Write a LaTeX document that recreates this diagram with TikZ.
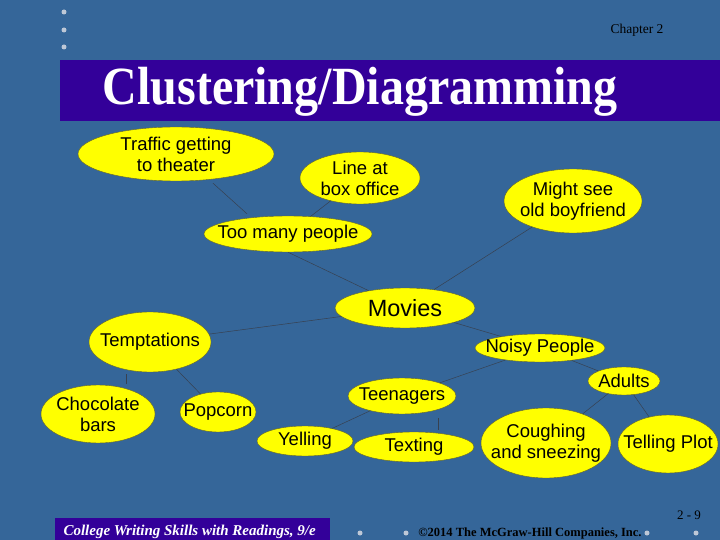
\documentclass[tikz,border=0pt]{standalone}
\usepackage{fontspec}
\setmainfont{Liberation Serif}
\newfontfamily\bubblefont{Liberation Sans}
\usetikzlibrary{shapes.geometric,positioning}

\definecolor{slideblue}{RGB}{53,102,153}
\definecolor{barpurple}{RGB}{51,0,153}
\definecolor{bubbleyellow}{RGB}{255,255,0}
\definecolor{bubbleedge}{RGB}{100,100,40}
\definecolor{linkgray}{RGB}{55,65,80}
\definecolor{dotgray}{RGB}{190,200,215}

\tikzset{
  bubble/.style={ellipse,draw=bubbleedge,fill=bubbleyellow,inner sep=0pt},
  bubtext/.style={align=center,inner sep=0pt,text=black,font=\bubblefont\fontsize{18.5}{21}\selectfont},
  link/.style={draw=linkgray,line width=.5pt},
  sdot/.style={circle,fill=dotgray,inner sep=0pt,minimum size=5pt}
}

\begin{document}
\begin{tikzpicture}[x=1pt,y=-1pt]
    \useasboundingbox (0,0) rectangle (720,540);
    \fill[slideblue] (0,0) rectangle (720,540);

    % header
    \node[sdot] (d1) at (64,12) {};
    \node[sdot] (d2) at (64,30) {};
    \node[sdot] (d3) at (64,47) {};
    \node[font=\fontsize{13.5}{15}\selectfont] (chap) at (637,30) {Chapter 2};
    \fill[barpurple] (60,60) rectangle (720,121);
    \node[text=white,font=\bfseries\fontsize{48}{52}\selectfont,yscale=1.12,transform shape] (title) at (360,92) {Clustering/Diagramming};

    % bubbles
    \node[bubble,minimum width=196pt,minimum height=54pt,label={[bubtext]center:Traffic getting\\to theater}] (traffic) at (176,154) {};
    \node[bubble,minimum width=120pt,minimum height=52pt,label={[bubtext]center:Line at\\box office}] (boxoffice) at (360,178) {};
    \node[bubble,minimum width=138pt,minimum height=64pt,label={[bubtext]center:Might see\\old boyfriend}] (boyfriend) at (573,201) {};
    \node[bubble,minimum width=168pt,minimum height=36pt,label={[bubtext]center:Too many people}] (crowd) at (288,234) {};
    \node[bubble,minimum width=140pt,minimum height=40pt,label={[bubtext,font=\bubblefont\fontsize{23.5}{26}\selectfont]center:Movies}] (movies) at (405,308) {};
    \node[bubble,minimum width=122pt,minimum height=60pt,label={[bubtext]center:Temptations}] (tempt) at (150,342) {};
    \node[bubble,minimum width=130pt,minimum height=28pt,label={[bubtext]center:Noisy People}] (noisy) at (540,348) {};
    \node[bubble,minimum width=72pt,minimum height=28pt,label={[bubtext]center:Adults}] (adults) at (624,381) {};
    \node[bubble,minimum width=108pt,minimum height=36pt,label={[bubtext]center:Teenagers}] (teens) at (402,396) {};
    \node[bubble,minimum width=114pt,minimum height=58pt,label={[bubtext]center:Chocolate\\bars}] (choc) at (98,414) {};
    \node[bubble,minimum width=76pt,minimum height=40pt,label={[bubtext]center:Popcorn}] (popcorn) at (218,412) {};
    \node[bubble,minimum width=96pt,minimum height=30pt,label={[bubtext]center:Yelling}] (yelling) at (305,441) {};
    \node[bubble,minimum width=120pt,minimum height=30pt,label={[bubtext]center:Texting}] (texting) at (414,447) {};
    \node[bubble,minimum width=130pt,minimum height=70pt,label={[bubtext]center:Coughing\\and sneezing}] (cough) at (546,443) {};
    \node[bubble,minimum width=100pt,minimum height=58pt,label={[bubtext]center:Telling Plot}] (plot) at (668,444) {};

    % links
    \draw[link] ([xshift=37pt,yshift=-2pt]traffic.south) -- ([xshift=-41pt,yshift=2pt]crowd.north);
    \draw[link] (boxoffice) -- (crowd);
    \draw[link] (crowd.south) -- (movies);
    \draw[link] (boyfriend) -- (movies);
    \draw[link] (movies) -- (tempt);
    \draw[link] (movies) -- (noisy);
    \draw[link] ([xshift=-24pt,yshift=-2pt]tempt.south) -- ([xshift=28pt,yshift=1pt]choc.north);
    \draw[link] (tempt) -- (popcorn);
    \draw[link] (noisy) -- (teens);
    \draw[link] (noisy) -- (adults);
    \draw[link] (teens) -- (yelling);
    \draw[link] ([xshift=36pt,yshift=-4pt]teens.south) -- ([xshift=24pt,yshift=2pt]texting.north);
    \draw[link] (adults) -- (cough);
    \draw[link] (adults) -- (plot);

    % footer
    \fill[barpurple] (55,518) rectangle (330,540);
    \node[anchor=west,text=white,font=\bfseries\itshape\fontsize{15}{17}\selectfont] (book) at (60,532) {College Writing Skills with Readings, 9/e};
    \node[sdot] (d4) at (360,533) {};
    \node[sdot] (d5) at (406,533) {};
    \node[sdot] (d6) at (647,533) {};
    \node[sdot] (d7) at (696,533) {};
    \node[font=\bfseries\fontsize{12.5}{14}\selectfont] (copy) at (530,533) {\textcopyright2014 The McGraw-Hill Companies, Inc.};
    \node[font=\fontsize{13}{15}\selectfont] (page) at (689,515) {2 - 9};
\end{tikzpicture}
\end{document}
